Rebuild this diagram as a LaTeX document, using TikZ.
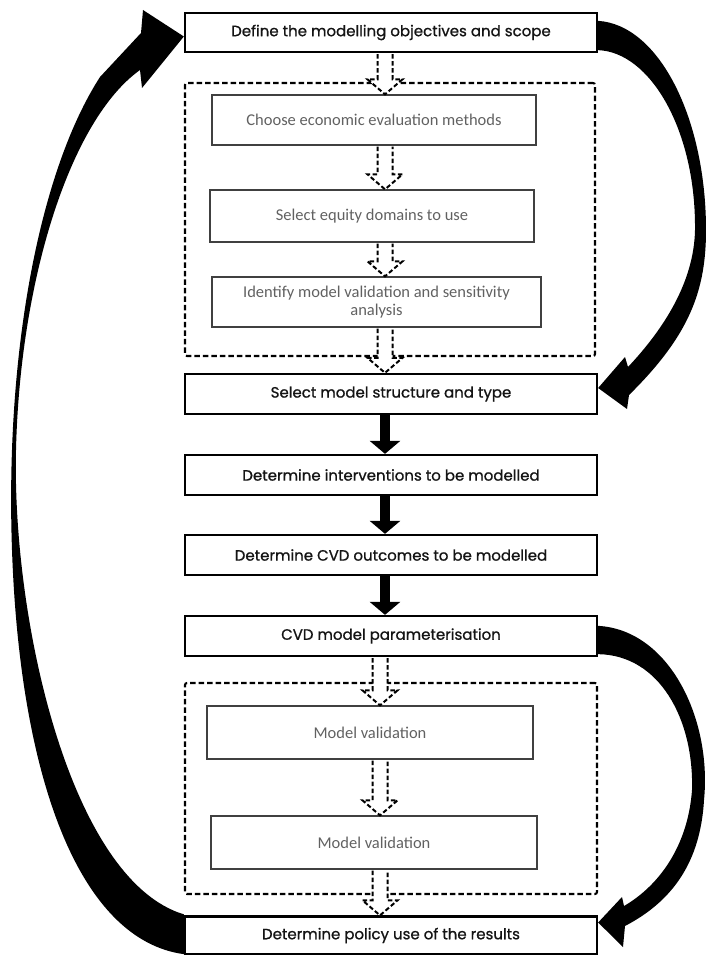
\documentclass[tikz,border=0pt]{standalone}
\usepackage{fontspec}
\setmainfont{Poppins}
\newfontfamily\stepfont{Poppins}[FakeBold=0.9]
\newfontfamily\calibri{Carlito}
\usetikzlibrary{arrows.meta,calc}

\tikzset{
	mainbox/.style={draw, line width=2.3pt, minimum width=412pt, minimum height=40pt, inner sep=0pt, font=\stepfont\fontsize{15}{17}\selectfont, text=black!92},
	subbox/.style={draw=black!75, line width=1.3pt, inner sep=0pt, align=center, font=\calibri\fontsize{16.5}{18}\selectfont, text=black!62},
	groupbox/.style={draw, line width=2.1pt, dash pattern=on 5.5pt off 3pt, rounded corners=2pt, inner sep=0pt},
	hollowarr/.style={draw, fill=white, line width=2pt, dash pattern=on 4.5pt off 2.5pt, line join=miter},
	solidarr/.style={line width=10pt, -{Triangle[width=30pt,length=13pt]}},
	loopfill/.style={fill=black},
}

% dashed hollow arrow between two nodes, on a given vertical axis
\newcommand{\hollowarrow}[3]{%
	\draw[hollowarr] let \p1=(#3 |- #1.south), \p2=(#3 |- #2.north) in
		(\x1-7.5pt,\y1-1pt) -- (\x1-7.5pt,\y2+15pt) -- (\x1-17.5pt,\y2+15pt) -- (\x2,\y2)
		-- (\x1+17.5pt,\y2+15pt) -- (\x1+7.5pt,\y2+15pt) -- (\x1+7.5pt,\y1-1pt);}

\begin{document}
\begin{tikzpicture}[x=1pt,y=-1pt]
		\useasboundingbox (0,0) rectangle (706,955);
		\coordinate (axisA) at (385,0);
		\coordinate (axisB) at (380,0);
		
		% Dashed groups
		\node[groupbox, minimum width=410pt, minimum height=273pt] (grpA) at (390,219.5) {};
		\node[groupbox, minimum width=412pt, minimum height=211pt] (grpB) at (391,788.5) {};
		
		% Main steps
		\node[mainbox, minimum height=39pt] (define) at (391,32.5) {Define the modelling objectives and scope};
		\node[mainbox] (structure) at (391,394) {Select model structure and type};
		\node[mainbox] (interv) at (391,475) {Determine interventions to be modelled};
		\node[mainbox] (outcomes) at (391,555) {Determine CVD outcomes to be modelled};
		\node[mainbox] (param) at (391,636) {CVD model parameterisation};
		\node[mainbox, minimum height=38pt] (policy) at (391,935.5) {Determine policy use of the results};
		
		% Sub steps, upper group
		\node[subbox, minimum width=324pt, minimum height=50pt] (choose) at (374,120) {Choose economic evaluation methods};
		\node[subbox, minimum width=324pt, minimum height=52pt] (equity) at (372,216) {Select equity domains to use};
		\node[subbox, minimum width=329pt, minimum height=50pt] (identify) at (376.5,302) {Identify model validation and sensitivity\\analysis};
		
		% Sub steps, lower group
		\node[subbox, minimum width=326pt, minimum height=53pt] (valone) at (370,732.5) {Model validation};
		\node[subbox, minimum width=326pt, minimum height=53pt] (valtwo) at (374,842.5) {Model validation};
		
		% Dashed arrows
		\hollowarrow{define}{choose}{axisA}
		\hollowarrow{choose}{equity}{axisA}
		\hollowarrow{equity}{identify}{axisA}
		\hollowarrow{identify}{structure}{axisA}
		\hollowarrow{param}{valone}{axisB}
		\hollowarrow{valone}{valtwo}{axisB}
		\hollowarrow{valtwo}{policy}{axisB}
		
		% Solid arrows
		\draw[solidarr] (structure.south -| axisA) -- (interv.north -| axisA);
		\draw[solidarr] (interv.south -| axisA) -- (outcomes.north -| axisA);
		\draw[solidarr] (outcomes.south -| axisA) -- (param.north -| axisA);
		
		% Loop: objectives -> model structure
		\fill[loopfill] ([yshift=-9pt]define.north east) .. controls (660,25) and (706,120) .. (706,230)
			.. controls (706,290) and (690,335) .. (629,395) -- (627,409) -- ([yshift=6pt]structure.east)
			-- (625,357) -- (628,367) .. controls (660,333) and (694,285) .. (695,230)
			.. controls (696,130) and (650,52) .. ([yshift=3pt]define.south east) -- cycle;
		
		% Loop: parameterisation -> policy use
		\fill[loopfill] ([yshift=-11pt]param.north east) .. controls (670,630) and (712,720) .. (704,800)
			.. controls (700,870) and (665,905) .. (625,926) -- (623,947) -- ([yshift=13pt]policy.east)
			-- (622,897) -- (624,906) .. controls (660,885) and (688,845) .. (692,790)
			.. controls (694,720) and (660,655) .. ([yshift=3pt]param.south east) -- cycle;
		
		% Loop: policy use -> objectives
		\fill[loopfill] ([yshift=1.5pt]policy.south west) .. controls (80,940) and (20,780) .. (12,550)
			.. controls (5,350) and (40,170) .. (100,77) -- (141,33) -- (143,10) -- ([yshift=-4pt]define.west)
			-- (142,88) -- (140,70) .. controls (70,120) and (20,280) .. (16,450)
			.. controls (12,620) and (70,880) .. ([yshift=1pt]policy.north west) -- cycle;
	\end{tikzpicture}
\end{document}
